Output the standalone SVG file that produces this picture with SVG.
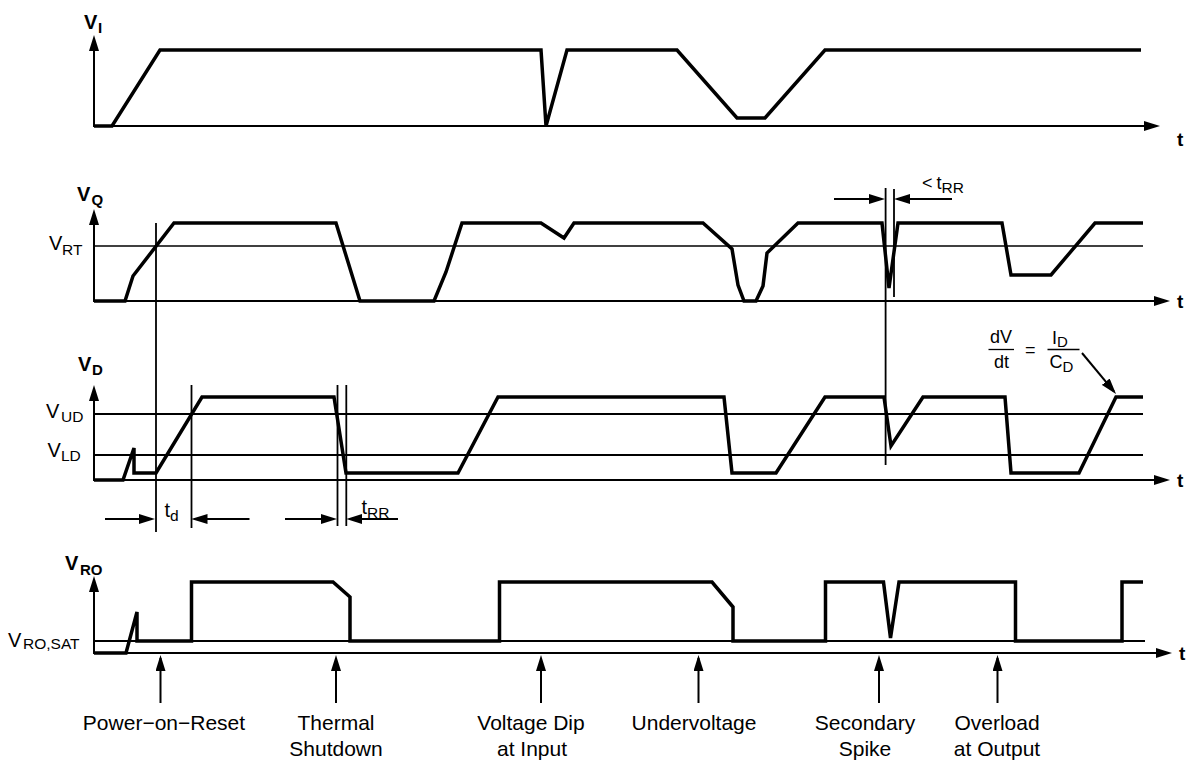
<svg xmlns="http://www.w3.org/2000/svg" width="1188" height="760" viewBox="0 0 1188 760">
<defs>
<style>
.wave{fill:none;stroke:#000;stroke-width:3.5;stroke-linejoin:miter;stroke-linecap:butt}
.axis{stroke:#000;stroke-width:2;fill:none}
.thin{stroke:#000;stroke-width:1.3;fill:none}
.lvl{stroke:#000;stroke-width:2;fill:none}
.mark{stroke:#000;stroke-width:1.8;fill:none}
text{font-family:"Liberation Sans",Arial,Helvetica,sans-serif;fill:#000}
.sig{font-weight:bold;font-size:20px}
.sigs{font-weight:bold;font-size:15px}
.lab{font-size:20px}
.labs{font-size:15.5px}
.tt{font-weight:bold;font-size:19px}
.fr{font-size:18px}
.frs{font-size:15px}
.ev{font-size:21px;text-anchor:middle}
</style>
<marker id="ah" markerUnits="userSpaceOnUse" markerWidth="16" markerHeight="10" refX="13" refY="5" orient="auto" viewBox="0 0 16 10"><path d="M0,0 L16,5 L0,10 z" fill="#000"/></marker>
</defs>
<rect width="1188" height="760" fill="#fff"/>

<g id="panel-vi">
<line class="axis" x1="94" y1="127" x2="94" y2="38" marker-end="url(#ah)"/>
<line class="axis" x1="93" y1="126" x2="1157" y2="126" marker-end="url(#ah)"/>
<text class="sig" x="84" y="29">V</text><text class="sigs" x="98" y="33">I</text>
<text class="tt" x="1177" y="146">t</text>
<path class="wave" d="M94,126 L112,126 L160,50 L541,50 L546,126 L567,50 L677,50 L737,118 L765,118 L825,50 L1141,50"/>
</g>

<g id="panel-vq">
<line class="axis" x1="94" y1="302" x2="94" y2="212" marker-end="url(#ah)"/>
<line class="thin" x1="94" y1="246" x2="1143" y2="246"/>
<line class="axis" x1="93" y1="301" x2="1167" y2="301" marker-end="url(#ah)"/>
<text class="sig" x="77" y="201">V</text><text class="sigs" x="91.5" y="205">Q</text>
<text class="lab" x="49" y="250">V</text><text class="labs" x="62" y="255">RT</text>
<text class="tt" x="1177" y="308">t</text>
<path class="wave" d="M94,301 L125,301 L133,276 L174,223 L336,223 L360,301 L434,301 L446,272 L462,223 L541,223 L564,238 L574,223 L703,223 L732,249 L738,285 L744,301 L756,301 L763,286 L767,253 L798,223 L882,223 L889,288 L898,223 L1002,223 L1011,275 L1051,275 L1095,223 L1143,223"/>
</g>

<g id="panel-vd">
<line class="axis" x1="94" y1="481" x2="94" y2="388" marker-end="url(#ah)"/>
<line class="lvl" x1="94" y1="414" x2="1143" y2="414"/>
<line class="lvl" x1="94" y1="455" x2="1143" y2="455"/>
<line class="axis" x1="93" y1="480" x2="1167" y2="480" marker-end="url(#ah)"/>
<text class="sig" x="78" y="371">V</text><text class="sigs" x="92" y="375">D</text>
<text class="lab" x="46" y="418">V</text><text class="labs" x="61" y="422">UD</text>
<text class="lab" x="47.5" y="457">V</text><text class="labs" x="61" y="461">LD</text>
<text class="tt" x="1177" y="487">t</text>
<path class="wave" d="M94,480 L123,480 L134,448 L134,473 L156,473 L202,397 L334,397 L346,473 L458,473 L498,397 L724,397 L732,473 L776,473 L825,397 L884,397 L891,446 L923,397 L1005,397 L1011,473 L1079,473 L1116,397 L1143,397"/>
</g>

<g id="panel-vro">
<line class="axis" x1="94" y1="654" x2="94" y2="579" marker-end="url(#ah)"/>
<line class="lvl" x1="94" y1="641" x2="1145" y2="641"/>
<line class="axis" x1="93" y1="653" x2="1169" y2="653" marker-end="url(#ah)"/>
<text class="sig" x="65" y="570">V</text><text class="sigs" x="80" y="575">RO</text>
<text class="lab" x="8" y="647">V</text><text class="labs" x="23" y="649">RO,SAT</text>
<text class="tt" x="1179" y="660">t</text>
<path class="wave" d="M94,653 L126,653 L137,612 L137,641 L191.5,641 L191.5,582 L333,582 L350,597 L350,641 L499.5,641 L499.5,582 L712,582 L733,607 L733,641 L825.5,641 L825.5,582 L883.5,582 L890.5,638 L899,582 L1015.5,582 L1015.5,641 L1122,641 L1122,582 L1143,582"/>
</g>

<g id="timing-marks">
<line class="mark" x1="156" y1="223" x2="156" y2="532"/>
<line class="mark" x1="191.5" y1="385" x2="191.5" y2="528"/>
<line class="mark" x1="337.5" y1="385" x2="337.5" y2="526"/>
<line class="mark" x1="346.3" y1="385" x2="346.3" y2="526"/>
<line class="mark" x1="885.6" y1="188" x2="885.6" y2="465"/>
<line class="mark" x1="894" y1="189" x2="894" y2="297"/>
<line class="axis" x1="105" y1="519" x2="152" y2="519" marker-end="url(#ah)"/>
<line class="axis" x1="249.5" y1="519" x2="194.5" y2="519" marker-end="url(#ah)"/>
<line class="axis" x1="285" y1="519" x2="334" y2="519" marker-end="url(#ah)"/>
<line class="axis" x1="398" y1="519" x2="349.3" y2="519" marker-end="url(#ah)"/>
<line class="axis" x1="834" y1="199" x2="882" y2="199" marker-end="url(#ah)"/>
<line class="axis" x1="952" y1="199" x2="897" y2="199" marker-end="url(#ah)"/>
<text class="lab" x="164.5" y="517">t<tspan class="labs" dy="4">d</tspan></text>
<text class="lab" x="361.5" y="514">t<tspan class="labs" dy="4">RR</tspan></text>
<text class="fr" x="922" y="189" style="word-spacing:-1px">&lt; t<tspan class="labs" dy="4">RR</tspan></text>
</g>

<g id="slope-note">
<text class="fr" x="1001" y="343" text-anchor="middle">dV</text>
<line class="thin" x1="988.5" y1="349.5" x2="1014" y2="349.5"/>
<text class="fr" x="1001.5" y="368" text-anchor="middle">dt</text>
<text class="fr" x="1025" y="356">=</text>
<text class="fr" x="1052" y="344">I<tspan class="frs" dy="3">D</tspan></text>
<line class="thin" x1="1047.5" y1="349.5" x2="1079.5" y2="349.5"/>
<text class="fr" x="1049.5" y="368">C<tspan class="frs" dy="4">D</tspan></text>
<line class="axis" x1="1082" y1="353" x2="1114.1" y2="391.7" marker-end="url(#ah)"/>
</g>

<g id="events">
<line class="axis" x1="160.5" y1="703" x2="160.5" y2="658" marker-end="url(#ah)"/>
<line class="axis" x1="336" y1="703" x2="336" y2="658" marker-end="url(#ah)"/>
<line class="axis" x1="541" y1="703" x2="541" y2="658" marker-end="url(#ah)"/>
<line class="axis" x1="698.5" y1="703" x2="698.5" y2="658" marker-end="url(#ah)"/>
<line class="axis" x1="879" y1="703" x2="879" y2="658" marker-end="url(#ah)"/>
<line class="axis" x1="997.5" y1="703" x2="997.5" y2="658" marker-end="url(#ah)"/>
</g>
<g id="label-por"><text class="ev" x="164" y="730">Power−on−Reset</text></g>
<g id="label-thermal"><text class="ev" x="336" y="730">Thermal</text><text class="ev" x="336" y="756">Shutdown</text></g>
<g id="label-dip"><text class="ev" x="531" y="730">Voltage Dip</text><text class="ev" x="532" y="756">at Input</text></g>
<g id="label-uv"><text class="ev" x="694" y="730">Undervoltage</text></g>
<g id="label-spike"><text class="ev" x="865" y="730">Secondary</text><text class="ev" x="865" y="756">Spike</text></g>
<g id="label-overload"><text class="ev" x="997" y="730">Overload</text><text class="ev" x="997" y="756">at Output</text></g>
</svg>
